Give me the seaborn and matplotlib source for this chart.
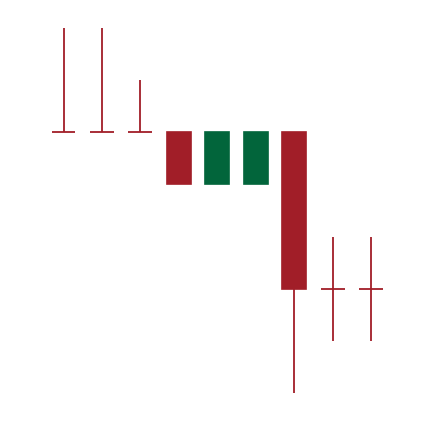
import numpy as np
import seaborn as sns
import matplotlib.pyplot as plt

# OHLC values
days = np.arange(9)
opens = [6, 6, 6, 6, 5, 5, 6, 3, 3]
highs = [8, 8, 7, 6, 6, 6, 6, 4, 4]
lows = [6, 6, 6, 5, 5, 5, 1, 2, 2]
closes = [6, 6, 6, 5, 6, 6, 3, 3, 3]

up_color = "#02653b"
down_color = "#a11e28"

sns.set_style("white")
fig = plt.figure(figsize=(4.34, 4.22), dpi=100)
ax = fig.add_axes([0, 0, 1, 1])

for x, o, h, l, c in zip(days, opens, highs, lows, closes):
    color = up_color if c > o else down_color
    lo_body, hi_body = min(o, c), max(o, c)
    # wicks
    if h > hi_body:
        ax.vlines(x, hi_body, h, color=color, lw=1.3)
    if l < lo_body:
        ax.vlines(x, l, lo_body, color=color, lw=1.3)
    if o == c:
        ax.hlines(o, x - 0.31, x + 0.31, color=color, lw=1.3)
    else:
        ax.bar(x, hi_body - lo_body, bottom=lo_body, width=0.63,
               color=color, edgecolor=color, linewidth=1.2)

ax.set_xlim(-1.652, 9.638)
ax.set_ylim(0.444, 8.537)
ax.axis("off")
fig.savefig("out.png", dpi=100)
